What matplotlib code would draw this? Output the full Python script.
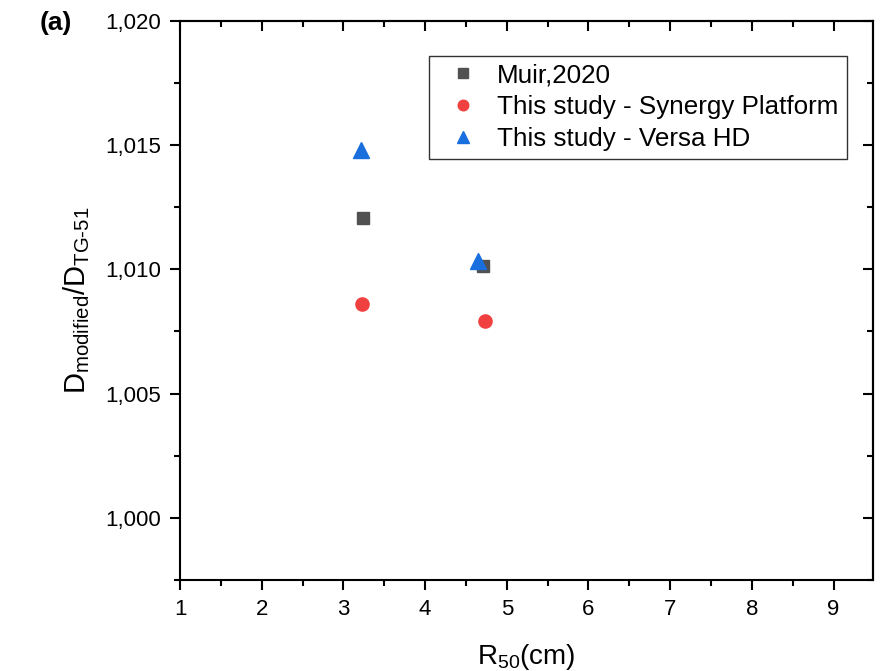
import numpy as np
import matplotlib
matplotlib.use('Agg')
import matplotlib.pyplot as plt
from matplotlib.ticker import MultipleLocator, FuncFormatter

plt.rcParams['font.family'] = ['Liberation Sans', 'DejaVu Sans']
plt.rcParams['mathtext.fontset'] = 'custom'
plt.rcParams['mathtext.rm'] = 'Liberation Sans'
plt.rcParams['mathtext.it'] = 'Liberation Sans:italic'

# data
muir_x = [3.235, 4.71]
muir_y = [1.01206, 1.01015]
synergy_x = [3.225, 4.73]
synergy_y = [1.00862, 1.00791]
versa_x = [3.215, 4.645]
versa_y = [1.01480, 1.01032]

labels = ['Muir,2020', 'This study - Synergy Platform', 'This study - Versa HD']

fig = plt.figure(figsize=(8.82, 6.71), dpi=100)
ax = fig.add_axes([0.2041, 0.1356, 0.9895 - 0.2041, 0.9692 - 0.1356])

ax.plot(muir_x, muir_y, 's', color='#515151', markersize=8.5, label=labels[0], linestyle='none')
ax.plot(synergy_x, synergy_y, 'o', color='#F14040', markersize=9.5, label=labels[1], linestyle='none')
ax.plot(versa_x, versa_y, '^', color='#1A6FDF', markersize=11, label=labels[2], linestyle='none')

ax.set_xlim(1, 9.48)
ax.set_ylim(0.9975, 1.020)
ax.xaxis.set_major_locator(MultipleLocator(1))
ax.xaxis.set_minor_locator(MultipleLocator(0.5))
ax.yaxis.set_major_locator(MultipleLocator(0.005))
ax.yaxis.set_minor_locator(MultipleLocator(0.0025))
ax.yaxis.set_major_formatter(FuncFormatter(lambda v, p: f"{v:.3f}".replace('.', ',')))
ax.xaxis.set_major_formatter(FuncFormatter(lambda v, p: f"{v:.0f}"))

for s in ax.spines.values():
    s.set_linewidth(1.5)

ax.tick_params(which='both', direction='out', width=1.5, labelsize=16, pad=6)
ax.tick_params(which='major', length=7.5)
ax.tick_params(which='minor', length=4)

# mirrored inward ticks on top and right
top = ax.secondary_xaxis('top')
top.set_xticks(np.arange(1, 10))
top.xaxis.set_minor_locator(MultipleLocator(0.5))
top.tick_params(which='both', direction='in', width=1.5, labeltop=False)
top.tick_params(which='major', length=7.5)
top.tick_params(which='minor', length=4)
top.spines['top'].set_linewidth(1.5)
right = ax.secondary_yaxis('right')
right.yaxis.set_major_locator(MultipleLocator(0.005))
right.yaxis.set_minor_locator(MultipleLocator(0.0025))
right.tick_params(which='both', direction='in', width=1.5, labelright=False)
right.tick_params(which='major', length=7.5)
right.tick_params(which='minor', length=4)
right.spines['right'].set_linewidth(1.5)

ax.set_xlabel(r'R$_{\mathregular{50}}$(cm)', fontsize=20, labelpad=16)
ax.set_ylabel(r'D$_{\mathregular{modified}}$/D$_{\mathregular{TG\text{-}51}}$', fontsize=21, labelpad=10)

leg = ax.legend(loc='upper left', bbox_to_anchor=(0.3595, 0.9374), borderaxespad=0,
                fontsize=18.7, frameon=True, fancybox=False, edgecolor='black',
                markerscale=0.8, handletextpad=0.33, labelspacing=0.3,
                borderpad=0.3, handlelength=2.0)
leg.get_frame().set_linewidth(1.0)

fig.text(0.045, 0.965, '(a)', fontsize=19, fontweight='bold', va='center', ha='left')

fig.savefig('out.png', dpi=100)
